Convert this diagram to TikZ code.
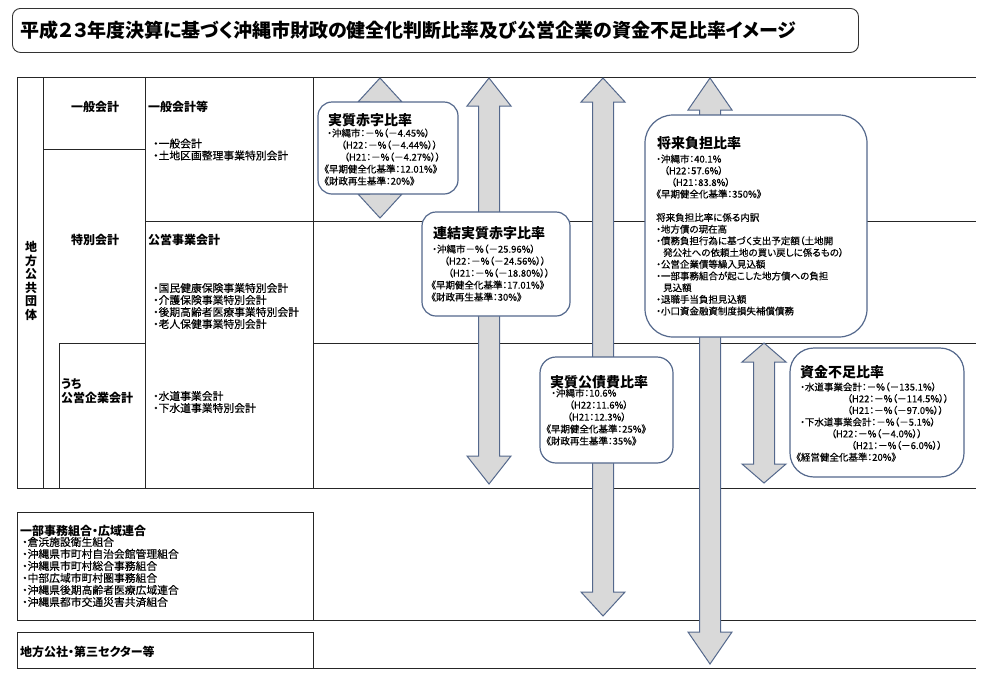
\documentclass[tikz,border=0pt]{standalone}
\usepackage{fontspec}
\setmainfont[RawFeature=+palt]{Noto Sans CJK JP}
\newfontfamily\corpsfont[RawFeature=+palt,FakeBold=0.3]{Noto Sans CJK JP}
\definecolor{bordbleu}{RGB}{84,104,140}
\definecolor{grisfleche}{RGB}{217,217,217}
% double block arrow: x, top tip, bottom tip, head length
\newcommand{\blockarrow}[4]{\filldraw[fleche] (#1,#2) -- (#1+22,#2+#4) -- (#1+10.5,#2+#4) -- (#1+10.5,#3-#4) -- (#1+22,#3-#4) -- (#1,#3) -- (#1-22,#3-#4) -- (#1-10.5,#3-#4) -- (#1-10.5,#2+#4) -- (#1-22,#2+#4) -- cycle}

\begin{document}
\begin{tikzpicture}[x=1pt,y=-1pt,
    trait/.style={draw=black!85, line width=0.9pt},
    cadre/.style={draw=bordbleu, line width=1.2pt, fill=white},
    fleche/.style={draw=bordbleu, fill=grisfleche, line width=1pt},
    cat/.style={font=\bfseries\fontsize{12}{13.6}\selectfont, inner sep=0pt},
    liste/.style={font=\corpsfont\fontsize{10.8}{12}\selectfont, align=left, anchor=west, inner sep=0pt},
    titre/.style={font=\bfseries\fontsize{14}{16}\selectfont, anchor=west, inner sep=0pt},
    corps/.style={font=\corpsfont\fontsize{9.5}{12}\selectfont, align=left, anchor=west, inner sep=0pt}]
    \useasboundingbox (0,0) rectangle (1000,686);

    \node[draw=black!80, line width=0.9pt, rounded corners=8pt, anchor=north west, minimum height=44pt, text width=830pt, inner xsep=8pt, align=left, font=\bfseries\fontsize{19}{20}\selectfont] (entete) at (12,8) {平成２３年度決算に基づく沖縄市財政の健全化判断比率及び公営企業の資金不足比率イメージ};

    % table
    \draw[trait] (17,77) -- (976,77);
    \draw[trait] (17,77) -- (17,488) -- (976,488);
    \draw[trait] (43,77) -- (43,488);
    \draw[trait] (145,77) -- (145,488);
    \draw[trait] (313,77) -- (313,488);
    \draw[trait] (43,149) -- (145,149);
    \draw[trait] (145,221) -- (976,221);
    \draw[trait] (59,488) -- (59,343) -- (145,343);
    \draw[trait] (313,343) -- (976,343);
    \draw[trait] (17,512) rectangle (313,620);
    \draw[trait] (313,620) -- (976,620);
    \draw[trait] (17,632) rectangle (313,668);
    \draw[trait] (313,668) -- (976,668);

    \node[cat, align=center] (chihou) at (31,281) {地\\方\\公\\共\\団\\体};
    \node[cat] (ippan) at (95,107) {一般会計};
    \node[cat] (tokubetsu) at (95,240) {特別会計};
    \node[cat, anchor=west, align=left] (kigyou) at (61,391) {うち\\公営企業会計};
    \node[cat, anchor=west] (ippantou) at (148,107) {一般会計等};
    \node[cat, anchor=west] (jigyou) at (148,240) {公営事業会計};
    \node[liste] (ippanlist) at (153,149.5) {・一般会計\\・土地区画整理事業特別会計};
    \node[liste] (jigyoulist) at (153,306) {・国民健康保険事業特別会計\\・介護保険事業特別会計\\・後期高齢者医療事業特別会計\\・老人保健事業特別会計};
    \node[liste] (kigyoulist) at (153,402) {・水道事業会計\\・下水道事業特別会計};
    \node[cat, anchor=west] (kumiai) at (20,531) {一部事務組合・広域連合};
    \node[liste] (kumiailist) at (22,572) {・倉浜施設衛生組合\\・沖縄県市町村自治会館管理組合\\・沖縄県市町村総合事務組合\\・中部広域市町村圏事務組合\\・沖縄県後期高齢者医療広域連合\\・沖縄県都市交通災害共済組合};
    \node[cat, anchor=west] (kousha) at (20,652) {地方公社・第三セクター等};

    % arrows
    \blockarrow{380}{78}{218}{24};
    \blockarrow{489}{78}{484}{28};
    \blockarrow{603}{78}{616}{24};
    \blockarrow{710}{78}{664}{32};
    \blockarrow{764}{343}{483}{19};

    % boxes
    \node[cadre, rounded corners=14pt, minimum width=140pt, minimum height=92pt] (akaji) at (388,148) {};
    \node[cadre, rounded corners=14pt, minimum width=148pt, minimum height=104pt] (renketsu) at (496,264) {};
    \node[cadre, rounded corners=16pt, minimum width=133pt, minimum height=106pt] (kousai) at (606.5,410) {};
    \node[cadre, rounded corners=28pt, minimum width=222pt, minimum height=222pt] (shourai) at (756,226) {};
    \node[cadre, rounded corners=24pt, minimum width=174pt, minimum height=129pt] (shikin) at (877,412.5) {};

    \node[titre] (akajititre) at (328,120) {実質赤字比率};
    \node[corps] (akajitxt) at (324,157) {\hspace*{3pt}・沖縄市：－\%（－4.45\%）\\
        \hspace*{17pt}（H22：－\%（－4.44\%））\\
        \hspace*{20pt}（H21：－\%（－4.27\%））\\
        《早期健全化基準：12.01\%》\\
        《財政再生基準：20\%》};

    \node[titre] (renketsutitre) at (433,233) {連結実質赤字比率};
    \node[corps] (renketsutxt) at (431,273) {\hspace*{1pt}・沖縄市－\%（－25.96\%）\\
        \hspace*{13pt}（H22：－\%（－24.56\%））\\
        \hspace*{17pt}（H21：－\%（－18.80\%））\\
        《早期健全化基準：17.01\%》\\
        《財政再生基準：30\%》};

    \node[titre] (kousaititre) at (550,382) {実質公債費比率};
    \node[corps] (kousaitxt) at (546,417) {\hspace*{5pt}・沖縄市：10.6\%\\
        \hspace*{23pt}（H22：11.6\%）\\
        \hspace*{21pt}（H21：12.3\%）\\
        《早期健全化基準：25\%》\\
        《財政再生基準：35\%》};

    \node[titre] (shouraititre) at (657,143) {将来負担比率};
    \node[corps, font=\corpsfont\fontsize{9.5}{11.7}\selectfont] (shouraitxt) at (656,235) {・沖縄市：40.1\%\\
        \hspace*{8pt}（H22：57.6\%）\\
        \hspace*{15pt}（H21：83.8\%）\\
        《早期健全化基準：350\%》\\[11.7pt]
        将来負担比率に係る内訳\\
        ・地方債の現在高\\
        ・債務負担行為に基づく支出予定額（土地開\\
        \hspace*{7pt}発公社への依頼土地の買い戻しに係るもの）\\
        ・公営企業債等繰入見込額\\
        ・一部事務組合が起こした地方債への負担\\
        \hspace*{7pt}見込額\\
        ・退職手当負担見込額\\
        ・小口資金融資制度損失補償債務};

    \node[titre] (shikintitre) at (800,372) {資金不足比率};
    \node[corps, font=\corpsfont\fontsize{9.5}{11.7}\selectfont] (shikintxt) at (796,422) {\hspace*{4pt}・水道事業会計：－\%（－135.1\%）\\
        \hspace*{51pt}（H22：－\%（－114.5\%））\\
        \hspace*{51pt}（H21：－\%（－97.0\%））\\
        \hspace*{4pt}・下水道事業会計：－\%（－5.1\%）\\
        \hspace*{35pt}（H22：－\%（－4.0\%））\\
        \hspace*{55pt}（H21：－\%（－6.0\%））\\
        《経営健全化基準：20\%》};
\end{tikzpicture}
\end{document}
